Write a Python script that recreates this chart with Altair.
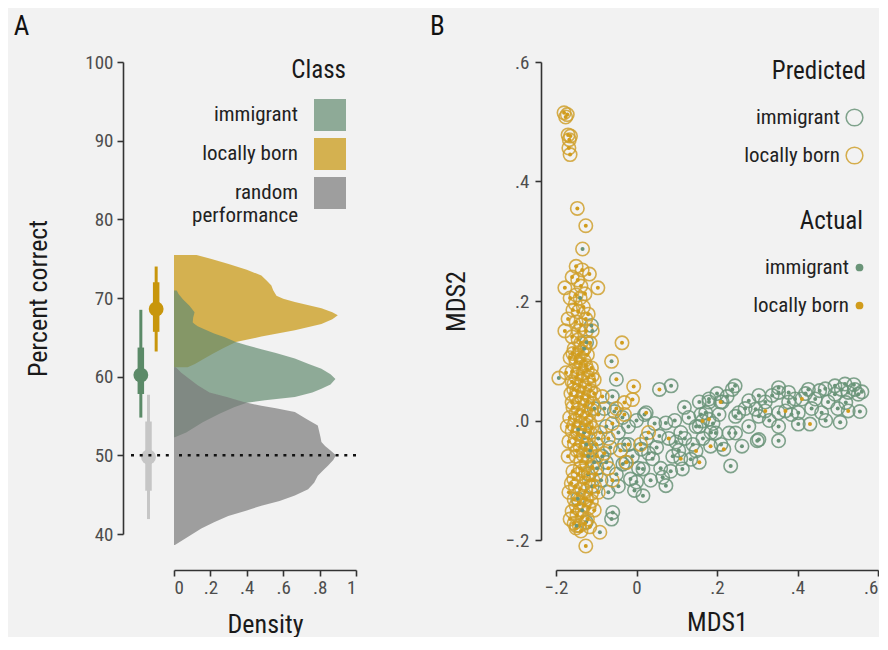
import altair as alt
import pandas as pd

# ---------------- Panel A data ----------------
CLASSES = ["immigrant", "locally born", "random performance"]

# density curves: percent correct (y) vs density (x)
GOLD_PCT = [61.2, 61.6, 62.2, 62.9, 63.6, 64.4, 65.1, 65.9, 66.7, 67.3, 67.8, 68.2, 68.7, 69.5,
            69.9, 70.3, 71.0, 71.6, 72.2, 72.85, 73.6, 74.33, 74.97, 75.48]
GOLD_DENS = [0.075, 0.115, 0.16, 0.213, 0.27, 0.34, 0.48, 0.664, 0.81, 0.87, 0.90, 0.87, 0.81, 0.664,
             0.60, 0.563, 0.545, 0.535, 0.51, 0.48, 0.40, 0.30, 0.206, 0.124]

GREEN_PCT = [52.3, 52.9, 54.2, 55.3, 56.1, 56.7, 57.0, 57.4, 58.0, 58.45, 59.0, 59.7, 60.3, 61.0,
             61.6, 62.3, 63.0, 63.5, 64.0, 64.4, 65.0, 65.5, 66.0, 66.4, 66.7, 66.9, 67.5, 68.2,
             69.0, 69.8, 70.5, 70.94]
GREEN_DENS = [0.005, 0.067, 0.158, 0.25, 0.33, 0.40, 0.50, 0.664, 0.76, 0.81, 0.86, 0.887, 0.86, 0.81,
              0.74, 0.664, 0.56, 0.48, 0.40, 0.34, 0.28, 0.22, 0.17, 0.13, 0.113, 0.103, 0.105, 0.113,
              0.085, 0.05, 0.025, 0.015]

GRAY_PCT = [38.6, 39.4, 40.7, 41.5, 42.3, 43.0, 43.6, 44.2, 44.9, 45.7, 46.5, 47.4, 48.1, 48.7,
            49.4, 50.0, 50.6, 51.2, 51.7, 52.3, 52.8, 53.8, 54.6, 55.5, 56.0, 56.3, 56.8, 57.4,
            58.0, 58.9, 59.7, 60.5, 61.2]
GRAY_DENS = [0.005, 0.06, 0.15, 0.22, 0.298, 0.40, 0.48, 0.58, 0.664, 0.737, 0.77, 0.79, 0.82, 0.847,
             0.875, 0.89, 0.86, 0.83, 0.81, 0.805, 0.80, 0.79, 0.73, 0.664, 0.56, 0.48, 0.378, 0.29,
             0.195, 0.13, 0.085, 0.04, 0.01]

# point intervals (median, 66% and 95% intervals)
PT_MED = [60.2, 68.6, 49.8]
PT_LO66 = [57.8, 65.7, 45.5]
PT_HI66 = [63.7, 72.0, 54.3]
PT_LO95 = [54.8, 63.2, 41.9]
PT_HI95 = [68.5, 74.0, 57.7]
CHANCE = [50]

# ---------------- Panel B data ----------------
GROUPS = ["immigrant", "locally born"]
# predicted locally born, actual locally born
LB_LB = [
    [-0.180, 0.515], [-0.176, 0.508], [-0.172, 0.512], [-0.170, 0.478], [-0.167, 0.470], [-0.164, 0.476],
    [-0.168, 0.456], [-0.165, 0.445],
    [-0.147, 0.355], [-0.126, 0.326], [-0.150, 0.258], [-0.135, 0.252], [-0.160, 0.240], [-0.117, 0.245],
    [-0.178, 0.222], [-0.096, 0.222],
    [-0.165, 0.205], [-0.150, 0.210], [-0.128, 0.212], [-0.158, 0.185], [-0.145, 0.182], [-0.132, 0.190],
    [-0.120, 0.178], [-0.170, 0.170], [-0.150, 0.165], [-0.138, 0.160], [-0.125, 0.150], [-0.160, 0.140],
    [-0.145, 0.135], [-0.115, 0.130], [-0.155, 0.120], [-0.135, 0.115], [-0.122, 0.110], [-0.165, 0.105],
    [-0.036, 0.130], [-0.007, 0.057], [-0.178, 0.150],
    [-0.150, 0.098], [-0.138, 0.095], [-0.126, 0.092], [-0.112, 0.088], [-0.160, 0.082], [-0.146, 0.078],
    [-0.132, 0.080], [-0.120, 0.072], [-0.105, 0.068], [-0.155, 0.062], [-0.141, 0.058], [-0.128, 0.055],
    [-0.114, 0.050], [-0.163, 0.045], [-0.150, 0.040], [-0.136, 0.038], [-0.122, 0.032], [-0.108, 0.028],
    [-0.158, 0.022], [-0.145, 0.018], [-0.131, 0.015], [-0.118, 0.010], [-0.166, 0.005], [-0.152, 0.000],
    [-0.139, -0.004], [-0.125, -0.008], [-0.111, -0.012], [-0.160, -0.018], [-0.146, -0.022],
    [-0.133, -0.026], [-0.119, -0.030], [-0.168, -0.035], [-0.154, -0.040], [-0.140, -0.044],
    [-0.127, -0.048], [-0.100, -0.040], [-0.090, -0.020], [-0.095, 0.010], [-0.085, 0.040],
    [-0.080, -0.055], [-0.070, -0.030], [-0.060, -0.005], [-0.050, 0.020], [-0.030, 0.030],
    [-0.040, -0.050], [-0.025, -0.070],
    [-0.150, -0.060], [-0.138, -0.068], [-0.124, -0.072], [-0.110, -0.078], [-0.158, -0.085],
    [-0.145, -0.090], [-0.132, -0.095], [-0.118, -0.100], [-0.152, -0.110], [-0.140, -0.115],
    [-0.126, -0.118], [-0.112, -0.122], [-0.155, -0.132], [-0.143, -0.138], [-0.130, -0.142],
    [-0.118, -0.146], [-0.160, -0.152], [-0.148, -0.158], [-0.135, -0.162], [-0.122, -0.165],
    [-0.155, -0.172], [-0.142, -0.176], [-0.126, -0.210], [-0.100, -0.090], [-0.095, -0.120],
    [-0.105, -0.150], [-0.070, -0.080], [-0.060, -0.100],
    [-0.010, 0.035], [0.010, -0.040], [0.030, -0.020], [-0.030, 0.010],
    [-0.175, 0.080], [-0.172, -0.010], [-0.170, -0.060], [-0.168, -0.120], [-0.165, -0.165],
    [-0.142, 0.088], [-0.118, 0.060], [-0.148, 0.050], [-0.128, 0.025], [-0.140, 0.008],
    [-0.115, -0.020], [-0.152, -0.030], [-0.135, -0.036], [-0.122, -0.058], [-0.140, -0.080],
    [-0.128, -0.105], [-0.146, -0.124], [-0.132, -0.130], [-0.140, -0.150], [-0.128, -0.172],
    [-0.150, -0.180], [-0.138, 0.130], [-0.152, 0.105], [-0.130, 0.100], [-0.160, 0.065],
    [-0.105, 0.045], [-0.098, -0.060], [-0.108, -0.100], [-0.112, -0.135], [-0.160, 0.030],
    [-0.158, 0.112], [-0.144, 0.110], [-0.128, 0.122], [-0.150, 0.072], [-0.136, 0.066],
    [-0.122, 0.085], [-0.110, 0.075], [-0.156, 0.052], [-0.132, 0.046], [-0.118, 0.040],
    [-0.144, 0.030], [-0.112, 0.018], [-0.150, 0.012], [-0.126, 0.004], [-0.156, -0.008],
    [-0.116, -0.004], [-0.142, -0.012], [-0.128, -0.016], [-0.148, -0.050], [-0.132, -0.058],
    [-0.112, -0.045], [-0.156, -0.098], [-0.134, -0.084], [-0.120, -0.088], [-0.150, -0.142],
    [-0.124, -0.132], [-0.138, -0.185], [-0.116, -0.178], [-0.162, -0.105], [-0.104, -0.110],
    [-0.144, 0.150], [-0.126, 0.170], [-0.152, 0.195], [-0.138, 0.225], [-0.146, 0.235],
]
# predicted locally born, actual immigrant
LB_IMM = [
    [-0.134, 0.287], [-0.062, 0.099], [-0.193, 0.071], [-0.149, -0.176], [-0.091, -0.187],
    [-0.140, 0.205], [-0.130, 0.120], [-0.145, -0.015], [-0.120, -0.060], [-0.135, -0.150],
    [-0.110, 0.150],
]
# predicted immigrant, actual immigrant
IMM_IMM = [
    [-0.112, 0.159], [-0.124, 0.131], [-0.034, -0.073], [-0.005, -0.117], [-0.059, -0.154],
    [-0.062, -0.165], [-0.146, -0.131], [-0.115, -0.050], [-0.105, -0.070], [-0.095, -0.030],
    [-0.120, -0.090], [-0.130, -0.020], [-0.085, -0.060], [-0.075, -0.010], [-0.065, -0.045],
    [-0.055, 0.015], [-0.045, -0.020], [-0.035, 0.005], [-0.027, -0.070], [-0.015, -0.098],
    [-0.080, 0.020], [0.000, 0.000], [0.020, 0.010],
    [0.086, 0.058], [0.119, 0.022], [0.180, 0.036], [0.238, 0.052], [0.245, 0.058], [0.279, 0.033],
    [0.304, 0.042], [0.353, 0.047], [0.394, 0.036], [0.254, 0.013], [0.304, 0.007], [0.353, 0.013],
    [0.156, -0.010], [0.197, -0.021], [0.246, -0.021], [0.304, -0.032], [0.353, -0.034],
    [0.234, -0.076], [0.114, -0.081], [0.073, -0.109], [0.016, -0.126], [0.000, -0.103],
    [0.057, -0.026], [0.073, -0.004], [0.098, -0.036], [0.012, -0.048], [0.040, -0.064],
    [0.016, -0.081], [0.353, 0.055], [0.509, 0.052], [0.542, 0.052], [0.551, 0.044], [0.526, 0.047],
    [0.493, 0.044], [0.469, 0.053], [0.476, 0.031], [0.444, 0.036], [0.378, 0.031], [0.296, 0.019],
    [0.402, 0.013], [0.460, 0.013], [0.555, 0.015], [0.506, -0.003], [0.402, -0.006], [0.353, -0.010],
    [0.300, -0.034], [0.279, -0.010], [0.246, 0.007], [0.213, 0.031], [0.180, 0.031], [0.172, 0.013],
    [0.156, 0.031], [0.148, -0.010], [0.230, -0.021], [0.262, -0.043], [0.320, 0.031], [0.337, 0.042],
    [0.378, 0.047], [0.427, 0.052], [0.493, 0.058], [0.518, 0.061], [0.540, 0.060], [0.560, 0.048],
    [0.435, 0.020], [0.420, 0.045], [0.455, 0.050], [0.330, 0.000], [0.270, 0.020], [0.200, 0.045],
    [0.130, 0.005], [0.110, -0.020], [0.090, -0.060], [0.060, -0.080], [0.035, -0.100],
    [0.025, -0.030], [0.045, -0.005], [0.140, -0.040], [0.190, -0.005], [0.225, 0.040],
    [0.385, 0.010], [0.470, 0.000], [0.520, 0.030], [0.500, 0.020],
    [-0.125, -0.040], [-0.110, -0.110], [-0.098, -0.080], [-0.088, -0.100], [-0.075, -0.070],
    [-0.070, -0.120], [-0.050, -0.090], [-0.045, -0.110], [-0.030, -0.040], [-0.020, -0.010],
    [-0.010, -0.060], [0.005, -0.080], [-0.125, -0.170], [-0.105, 0.020], [-0.060, 0.040],
    [0.030, -0.055], [0.050, -0.045], [0.065, -0.095], [0.085, -0.085], [0.105, -0.050],
    [0.120, -0.030], [0.135, -0.065], [0.165, -0.030], [0.185, -0.020], [0.210, -0.040],
    [0.205, 0.010], [0.160, 0.010], [0.095, 0.000],
]
# predicted immigrant, actual locally born
IMM_LB = [
    [-0.050, 0.069], [0.057, 0.052], [0.209, 0.031], [0.180, 0.002], [0.217, -0.048],
    [0.156, -0.070], [0.110, -0.064], [0.024, 0.013], [0.320, 0.016], [0.370, 0.016],
    [0.411, 0.036], [0.526, 0.016], [0.431, -0.006], [0.164, -0.001], [0.184, -0.043],
    [0.148, -0.051], [0.080, -0.030], [-0.020, -0.040],
]

# ---------------- build tables ----------------
dens_rows = []
for cls, pcts, ds in [("locally born", GOLD_PCT, GOLD_DENS),
                      ("immigrant", GREEN_PCT, GREEN_DENS),
                      ("random performance", GRAY_PCT, GRAY_DENS)]:
    for p, d in zip(pcts, ds):
        dens_rows.append({"cls": cls, "pct": p, "dens": d})
dens_df = pd.DataFrame(dens_rows)

pt_df = pd.DataFrame({"cls": CLASSES, "med": PT_MED, "lo66": PT_LO66, "hi66": PT_HI66,
                      "lo95": PT_LO95, "hi95": PT_HI95})
chance_df = pd.DataFrame({"chance": CHANCE})

mds_rows = []
for pred, act, pts in [("immigrant", "immigrant", IMM_IMM), ("immigrant", "locally born", IMM_LB),
                       ("locally born", "locally born", LB_LB), ("locally born", "immigrant", LB_IMM)]:
    for x, y in pts:
        mds_rows.append({"mds1": x, "mds2": y, "pred": pred, "act": act})
mds_df = pd.DataFrame(mds_rows)

FONT = "Roboto Condensed"
AX = "#333333"


def neg(v):
    return {"expr": str(-v)}


LEG_COMMON = dict(labelFontSize=21, labelColor="#222222", labelFont=FONT, labelLimit=0, labelAlign="right",
                  titleFontSize=25, titleFontWeight="normal", titleColor="#1a1a1a", titleFont=FONT,
                  titleAnchor="end")

# ---------------- Panel A ----------------
y_axis_a = alt.Axis(values=[40, 50, 60, 70, 80, 90, 100], title="Percent correct",
                    titlePadding=33, labelPadding=4)
y_scale_a = alt.Scale(domain=[40, 100], nice=False, zero=False)

pt_x = alt.X("cls:N", scale=alt.Scale(type="point", domain=["immigrant", "random performance", "locally born"],
                                      range=[14, 37]), axis=None)
pt_color = alt.Color("cls:N", scale=alt.Scale(domain=CLASSES, range=["#5b8a68", "#c8960c", "#c6c6c6"]),
                     legend=None)
pt_base = alt.Chart(pt_df)
thin = pt_base.mark_rule(strokeWidth=3).encode(
    x=pt_x, y=alt.Y("lo95:Q", scale=y_scale_a, axis=y_axis_a), y2="hi95:Q", color=pt_color)
thick = pt_base.mark_rule(strokeWidth=6.5).encode(
    x=pt_x, y=alt.Y("lo66:Q", scale=y_scale_a), y2="hi66:Q", color=pt_color)
dots_a = pt_base.mark_circle(size=220, opacity=1).encode(
    x=pt_x, y=alt.Y("med:Q", scale=y_scale_a), color=pt_color)
chance_a = alt.Chart(chance_df).mark_rule(color="#111111", strokeWidth=2.5, strokeDash=[3, 5.7]).encode(
    y=alt.Y("chance:Q", scale=y_scale_a), x=alt.value(8), x2=alt.value(51))
A1 = alt.layer(thin, thick, dots_a, chance_a).properties(width=51, height=472)

area_color = alt.Color("cls:N", scale=alt.Scale(domain=CLASSES, range=["#648c70", "#c8960c", "#7a7a7a"]),
                       legend=alt.Legend(
                           title="Class", orient="none", legendX=10, legendY=-4,
                           symbolType="square", symbolSize=1024, symbolStrokeWidth=0, symbolOpacity=0.7,
                           symbolOffset=130, labelOffset=neg(48),
                           labelExpr="datum.label == 'random performance' ? ['random', 'performance'] : datum.label",
                           titlePadding=16, rowPadding=7, **LEG_COMMON))
x_dens = alt.X("dens:Q", scale=alt.Scale(domain=[0, 1], nice=False),
               axis=alt.Axis(values=[0, 0.2, 0.4, 0.6, 0.8, 1], offset=36, title="Density", titlePadding=14,
                             labelExpr="datum.value == 0 ? '0' : datum.value == 1 ? '1' : replace(format(datum.value, '.1f'), '0.', '.')"),
               stack=None)
areas = []
for cls in ["locally born", "immigrant", "random performance"]:
    areas.append(alt.Chart(dens_df).transform_filter(alt.datum.cls == cls).mark_area(
        orient="horizontal", opacity=0.7).encode(
        y=alt.Y("pct:Q", scale=y_scale_a, axis=None), x=x_dens, color=area_color))
chance_b = alt.Chart(chance_df).mark_rule(color="#111111", strokeWidth=2.5, strokeDash=[3, 5.7]).encode(
    y=alt.Y("chance:Q", scale=y_scale_a, axis=None))
A2 = alt.layer(*areas, chance_b).properties(width=182, height=472)

panelA = alt.hconcat(A1, A2, spacing=0, bounds="flush",
                     title=alt.Title("A", anchor="start", fontSize=27, fontWeight="normal", color="#111111",
                                     dx=-12, dy=-8, font=FONT)).resolve_scale(color="independent")

# ---------------- Panel B ----------------
xb = alt.X("mds1:Q", scale=alt.Scale(domain=[-0.2, 0.6], nice=False, zero=False),
           axis=alt.Axis(values=[-0.2, 0, 0.2, 0.4, 0.6], offset=30, title="MDS1", titlePadding=12,
                         labelAlign={"condition": {"test": "datum.value >= 0.59", "value": "right"},
                                     "value": "center"},
                         labelExpr="datum.value == 0 ? '0' : replace(format(datum.value, '.1f'), '0.', '.')"))
yb = alt.Y("mds2:Q", scale=alt.Scale(domain=[-0.2, 0.6], nice=False, zero=False),
           axis=alt.Axis(values=[-0.2, 0, 0.2, 0.4, 0.6], offset=15, title="MDS2", titlePadding=36,
                         labelPadding=6,
                         labelExpr="datum.value == 0 ? '.0' : replace(format(datum.value, '.1f'), '0.', '.')"))
circles = alt.Chart(mds_df).mark_point(filled=False, size=180, strokeWidth=1.6, opacity=0.85).encode(
    x=xb, y=yb,
    stroke=alt.Stroke("pred:N", scale=alt.Scale(range=["#6b957a", "#d0a12f"]),
                      legend=alt.Legend(title="Predicted", orient="none", legendX=168, legendY=-3,
                                        symbolSize=280, symbolStrokeWidth=1.5, symbolType="circle",
                                        symbolOffset=120, labelOffset=neg(25),
                                        titlePadding=23, rowPadding=15, **LEG_COMMON)))
dots_b = alt.Chart(mds_df).mark_circle(size=16, opacity=1).encode(
    x=xb, y=yb,
    fill=alt.Fill("act:N", scale=alt.Scale(range=["#6a9478", "#d19c1c"]),
                  legend=alt.Legend(title="Actual", orient="none", legendX=173, legendY=147,
                                    symbolSize=60, symbolType="circle",
                                    symbolOffset=120, labelOffset=neg(21),
                                    titlePadding=23, rowPadding=16, **LEG_COMMON)))
panelB = alt.layer(circles, dots_b).properties(
    width=322, height=478,
    title=alt.Title("B", anchor="start", fontSize=27, fontWeight="normal", color="#111111", dx=-13,
                    dy=-8, font=FONT))

chart = alt.hconcat(panelA, panelB, spacing=433, bounds="flush").resolve_scale(
    color="independent", stroke="independent", fill="independent"
).properties(
    padding={"left": 5, "top": 5, "right": 0, "bottom": 0}
).configure(
    font=FONT, background="#f2f2f2"
).configure_view(stroke=None).configure_axis(
    domainColor=AX, domainWidth=1.6, tickColor=AX, tickWidth=1.6, tickSize=6, grid=False,
    labelColor="#4d4d4d", labelFontSize=19, labelFont=FONT, titleFont=FONT,
    titleFontSize=26, titleFontWeight="normal", titleColor="#1a1a1a"
)

chart.save("out.html", embed_options={"renderer": "svg", "actions": False})
